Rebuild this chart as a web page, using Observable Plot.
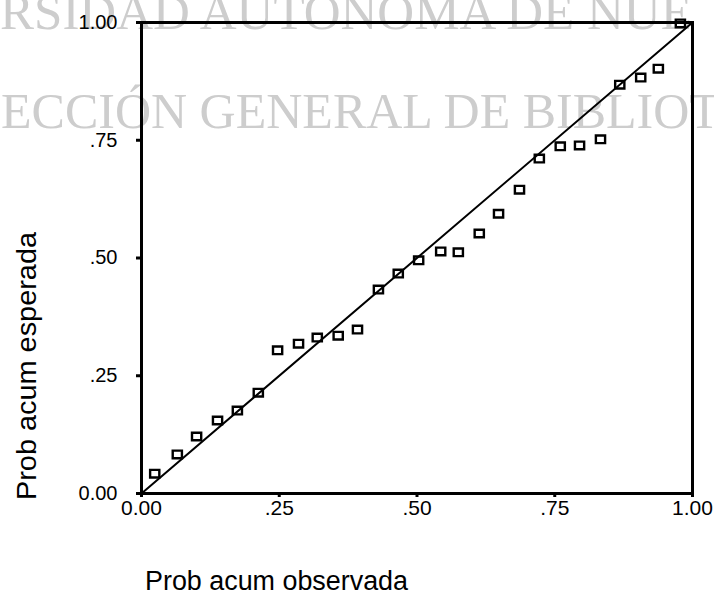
<!DOCTYPE html>
<html>
<head>
<meta charset="utf-8">
<script src="https://cdn.jsdelivr.net/npm/d3@7"></script>
<script src="https://cdn.jsdelivr.net/npm/@observablehq/plot@0.6"></script>
<style>
  html, body { margin: 0; padding: 0; background: white; }
  #chart { width: 714px; height: 595px; }
</style>
</head>
<body>
<div id="chart"></div>
<script>
// Observed cumulative probability (x) and expected cumulative probability (y)
const probObservada = [0.024, 0.065, 0.100, 0.138, 0.174, 0.212, 0.247, 0.285, 0.319, 0.357,
  0.392, 0.430, 0.466, 0.503, 0.543, 0.575, 0.613, 0.648, 0.686, 0.722,
  0.760, 0.795, 0.833, 0.868, 0.906, 0.938, 0.978];
const probEsperada = [0.042, 0.083, 0.121, 0.155, 0.176, 0.214, 0.304, 0.318, 0.331, 0.335,
  0.348, 0.433, 0.467, 0.495, 0.514, 0.512, 0.552, 0.594, 0.645, 0.711,
  0.737, 0.739, 0.752, 0.868, 0.883, 0.902, 0.998];
const refLine = [0, 1];
const tickValues = [0, 0.25, 0.5, 0.75, 1];
const xTickLabels = ["0.00", ".25", ".50", ".75", "1.00"];
const yTickLabels = ["0.00", ".25", ".50", ".75", "1.00"];
const xTitle = "Prob acum observada";
const yTitle = "Prob acum esperada";
const watermark = ["RSIDAD AUTONOMA DE NUE", "ECCIÓN GENERAL DE BIBLIOT"];

const points = probObservada.map((x, i) => ({x, y: probEsperada[i]}));

const squareSymbol = {
  draw(context, size) {
    const w = 4.6, h = 3.8;
    context.moveTo(-w, -h);
    context.lineTo(w, -h);
    context.lineTo(w, h);
    context.lineTo(-w, h);
    context.closePath();
  }
};

const chart = Plot.plot({
  width: 714,
  height: 595,
  marginLeft: 141,
  marginRight: 22,
  marginTop: 22,
  marginBottom: 102,
  style: {background: "white", fontFamily: "'Liberation Sans', Arial, sans-serif", color: "black"},
  x: {domain: [0, 1]},
  y: {domain: [0, 1]},
  marks: [
    Plot.axisX({
      ticks: tickValues,
      tickFormat: (d, i) => xTickLabels[i],
      tickSize: 4,
      tickPadding: 3,
      fontSize: 21,
      strokeWidth: 3,
      label: null
    }),
    Plot.axisY({
      ticks: tickValues,
      tickFormat: (d, i) => yTickLabels[i],
      tickSize: 5,
      tickPadding: 19,
      fontSize: 20,
      strokeWidth: 3,
      label: null
    }),
    Plot.frame({stroke: "black", strokeWidth: 3}),
    Plot.line(refLine, {x: d => d, y: d => d, stroke: "black", strokeWidth: 2}),
    Plot.dot(points, {x: "x", y: "y", symbol: squareSymbol, stroke: "black", strokeWidth: 2.4, fill: "none"})
  ]
});

document.getElementById("chart").appendChild(chart);

const svg = d3.select(chart);
// Background watermark (scanned page), behind everything
const wm = svg.insert("g", ":first-child")
  .attr("fill", "#cdcdcd")
  .attr("text-anchor", "start")
  .attr("font-family", "'Liberation Serif', 'Times New Roman', serif");
wm.append("text").attr("x", 0).attr("y", 29).attr("font-size", 51).text(watermark[0]);
wm.append("text").attr("x", 1).attr("y", 128).attr("font-size", 50).text(watermark[1]);
svg.insert("rect", ":first-child").attr("width", 714).attr("height", 595).attr("fill", "white");

// Axis titles
svg.append("text")
  .attr("x", 145).attr("y", 590)
  .attr("text-anchor", "start")
  .attr("font-size", 27)
  .attr("font-family", "'Liberation Sans', Arial, sans-serif")
  .attr("textLength", 263).attr("lengthAdjust", "spacingAndGlyphs")
  .attr("fill", "black")
  .text(xTitle);
svg.append("text")
  .attr("transform", "translate(36,366) rotate(-90)")
  .attr("text-anchor", "middle")
  .attr("font-size", 27)
  .attr("font-family", "'Liberation Sans', Arial, sans-serif")
  .attr("textLength", 268).attr("lengthAdjust", "spacingAndGlyphs")
  .attr("fill", "black")
  .text(yTitle);
</script>
</body>
</html>
